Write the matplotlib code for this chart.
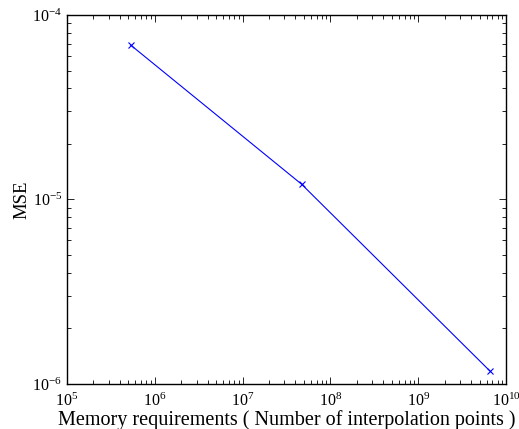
import matplotlib.pyplot as plt

# memory requirements (number of interpolation points) vs MSE
points = [5.3e5, 4.7e7, 6.5e9]
mse = [6.88e-5, 1.21e-5, 1.18e-6]

plt.rcParams['font.family'] = ['Liberation Serif', 'DejaVu Serif']
plt.rcParams['mathtext.fontset'] = 'stix'

fig = plt.figure(figsize=(5.19, 4.29), dpi=100)
ax = fig.add_axes([0.129, 0.105, 0.846, 0.860])
ax.loglog(points, mse, color='blue', linewidth=0.8, marker='x',
          markersize=4, markeredgewidth=0.8)

ax.set_xlim(1e5, 1e10)
ax.set_ylim(1e-6, 1e-4)
ax.set_xlabel('Memory requirements ( Number of interpolation points )',
              fontsize=14.5, labelpad=0.5)
ax.set_ylabel('MSE', fontsize=13.5, labelpad=1)

ax.tick_params(which='both', direction='in', top=True, right=True,
               labelsize=11.5, width=0.6)
ax.tick_params(axis='x', which='major', pad=6)
ax.tick_params(which='major', length=5)
ax.tick_params(which='minor', length=3)
for s in ax.spines.values():
    s.set_linewidth(1.0)

fig.savefig('out.png', dpi=100)
